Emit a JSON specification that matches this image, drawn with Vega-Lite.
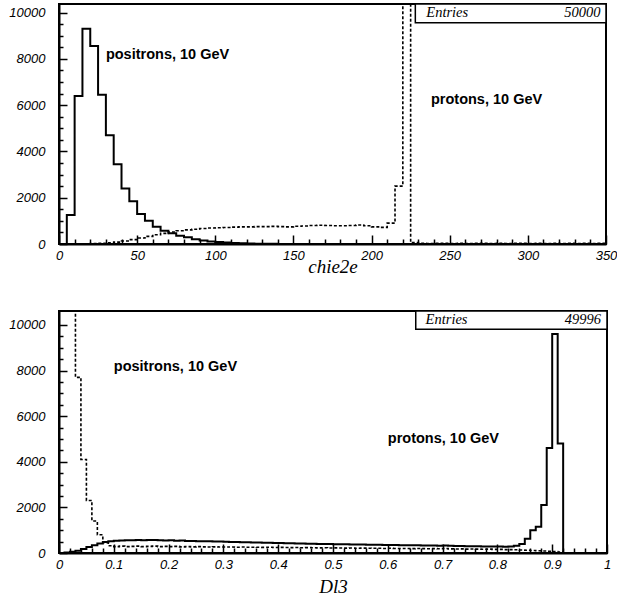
{
  "$schema": "https://vega.github.io/schema/vega-lite/v6.json",
  "background": "white",
  "padding": {"left": 7, "top": 2, "right": 8, "bottom": 5},
  "spacing": 32,
  "config": {
    "view": {"stroke": "black", "strokeWidth": 2},
    "axis": {
      "domainColor": "black", "domainWidth": 2, "tickColor": "black", "tickWidth": 1.5,
      "labelFont": "Liberation Sans", "labelFontStyle": "italic", "labelFontSize": 13, "labelColor": "black",
      "labelOverlap": false, "labelFlush": false, "grid": false,
      "titleFont": "Liberation Serif", "titleFontStyle": "italic", "titleFontWeight": "normal", "titleFontSize": 19, "titleColor": "black"
    }
  },
  "datasets": {
    "h": [
      {"p":"chie2e","s":"positrons","lo":0,"n":0},{"p":"chie2e","s":"positrons","lo":5,"n":1250},{"p":"chie2e","s":"positrons","lo":10,"n":6400},{"p":"chie2e","s":"positrons","lo":15,"n":9300},{"p":"chie2e","s":"positrons","lo":20,"n":8550},{"p":"chie2e","s":"positrons","lo":25,"n":6450},{"p":"chie2e","s":"positrons","lo":30,"n":4700},{"p":"chie2e","s":"positrons","lo":35,"n":3450},{"p":"chie2e","s":"positrons","lo":40,"n":2400},{"p":"chie2e","s":"positrons","lo":45,"n":1850},{"p":"chie2e","s":"positrons","lo":50,"n":1300},{"p":"chie2e","s":"positrons","lo":55,"n":1000},{"p":"chie2e","s":"positrons","lo":60,"n":750},{"p":"chie2e","s":"positrons","lo":65,"n":570},{"p":"chie2e","s":"positrons","lo":70,"n":460},{"p":"chie2e","s":"positrons","lo":75,"n":360},{"p":"chie2e","s":"positrons","lo":80,"n":290},{"p":"chie2e","s":"positrons","lo":85,"n":210},{"p":"chie2e","s":"positrons","lo":90,"n":150},{"p":"chie2e","s":"positrons","lo":95,"n":110},{"p":"chie2e","s":"positrons","lo":100,"n":85},{"p":"chie2e","s":"positrons","lo":105,"n":60},{"p":"chie2e","s":"positrons","lo":110,"n":45},{"p":"chie2e","s":"positrons","lo":115,"n":30},{"p":"chie2e","s":"positrons","lo":120,"n":22},{"p":"chie2e","s":"positrons","lo":125,"n":15},{"p":"chie2e","s":"positrons","lo":130,"n":10},{"p":"chie2e","s":"positrons","lo":135,"n":8},{"p":"chie2e","s":"positrons","lo":140,"n":5},{"p":"chie2e","s":"positrons","lo":145,"n":3},{"p":"chie2e","s":"positrons","lo":150,"n":2},{"p":"chie2e","s":"positrons","lo":155,"n":0},{"p":"chie2e","s":"positrons","lo":200,"n":0},{"p":"chie2e","s":"positrons","lo":250,"n":0},{"p":"chie2e","s":"positrons","lo":300,"n":0},{"p":"chie2e","s":"positrons","lo":350,"n":0},
      {"p":"chie2e","s":"protons","lo":0,"n":0},{"p":"chie2e","s":"protons","lo":5,"n":0},{"p":"chie2e","s":"protons","lo":10,"n":0},{"p":"chie2e","s":"protons","lo":15,"n":5},{"p":"chie2e","s":"protons","lo":20,"n":15},{"p":"chie2e","s":"protons","lo":25,"n":30},{"p":"chie2e","s":"protons","lo":30,"n":50},{"p":"chie2e","s":"protons","lo":35,"n":80},{"p":"chie2e","s":"protons","lo":40,"n":130},{"p":"chie2e","s":"protons","lo":45,"n":190},{"p":"chie2e","s":"protons","lo":50,"n":260},{"p":"chie2e","s":"protons","lo":55,"n":330},{"p":"chie2e","s":"protons","lo":60,"n":400},{"p":"chie2e","s":"protons","lo":65,"n":460},{"p":"chie2e","s":"protons","lo":70,"n":520},{"p":"chie2e","s":"protons","lo":75,"n":570},{"p":"chie2e","s":"protons","lo":80,"n":610},{"p":"chie2e","s":"protons","lo":85,"n":640},{"p":"chie2e","s":"protons","lo":90,"n":670},{"p":"chie2e","s":"protons","lo":95,"n":690},{"p":"chie2e","s":"protons","lo":100,"n":700},{"p":"chie2e","s":"protons","lo":105,"n":710},{"p":"chie2e","s":"protons","lo":110,"n":730},{"p":"chie2e","s":"protons","lo":115,"n":740},{"p":"chie2e","s":"protons","lo":120,"n":740},{"p":"chie2e","s":"protons","lo":125,"n":750},{"p":"chie2e","s":"protons","lo":130,"n":750},{"p":"chie2e","s":"protons","lo":135,"n":760},{"p":"chie2e","s":"protons","lo":140,"n":750},{"p":"chie2e","s":"protons","lo":145,"n":740},{"p":"chie2e","s":"protons","lo":150,"n":770},{"p":"chie2e","s":"protons","lo":155,"n":780},{"p":"chie2e","s":"protons","lo":160,"n":800},{"p":"chie2e","s":"protons","lo":165,"n":810},{"p":"chie2e","s":"protons","lo":170,"n":800},{"p":"chie2e","s":"protons","lo":175,"n":790},{"p":"chie2e","s":"protons","lo":180,"n":790},{"p":"chie2e","s":"protons","lo":185,"n":800},{"p":"chie2e","s":"protons","lo":190,"n":820},{"p":"chie2e","s":"protons","lo":195,"n":790},{"p":"chie2e","s":"protons","lo":200,"n":740},{"p":"chie2e","s":"protons","lo":205,"n":720},{"p":"chie2e","s":"protons","lo":210,"n":900},{"p":"chie2e","s":"protons","lo":215,"n":2500},{"p":"chie2e","s":"protons","lo":220,"n":25000},{"p":"chie2e","s":"protons","lo":225,"n":60},{"p":"chie2e","s":"protons","lo":230,"n":35},{"p":"chie2e","s":"protons","lo":235,"n":20},{"p":"chie2e","s":"protons","lo":240,"n":30},{"p":"chie2e","s":"protons","lo":245,"n":25},{"p":"chie2e","s":"protons","lo":250,"n":20},{"p":"chie2e","s":"protons","lo":255,"n":30},{"p":"chie2e","s":"protons","lo":260,"n":20},{"p":"chie2e","s":"protons","lo":265,"n":25},{"p":"chie2e","s":"protons","lo":270,"n":30},{"p":"chie2e","s":"protons","lo":275,"n":20},{"p":"chie2e","s":"protons","lo":280,"n":25},{"p":"chie2e","s":"protons","lo":285,"n":20},{"p":"chie2e","s":"protons","lo":290,"n":30},{"p":"chie2e","s":"protons","lo":295,"n":25},{"p":"chie2e","s":"protons","lo":300,"n":20},{"p":"chie2e","s":"protons","lo":305,"n":25},{"p":"chie2e","s":"protons","lo":310,"n":20},{"p":"chie2e","s":"protons","lo":315,"n":30},{"p":"chie2e","s":"protons","lo":320,"n":20},{"p":"chie2e","s":"protons","lo":325,"n":25},{"p":"chie2e","s":"protons","lo":330,"n":20},{"p":"chie2e","s":"protons","lo":335,"n":25},{"p":"chie2e","s":"protons","lo":340,"n":20},{"p":"chie2e","s":"protons","lo":345,"n":25},{"p":"chie2e","s":"protons","lo":350,"n":0},
      {"p":"Dl3","s":"protons","lo":0.00,"n":0},{"p":"Dl3","s":"protons","lo":0.01,"n":20},{"p":"Dl3","s":"protons","lo":0.02,"n":50},{"p":"Dl3","s":"protons","lo":0.03,"n":100},{"p":"Dl3","s":"protons","lo":0.04,"n":180},{"p":"Dl3","s":"protons","lo":0.05,"n":260},{"p":"Dl3","s":"protons","lo":0.06,"n":340},{"p":"Dl3","s":"protons","lo":0.07,"n":420},{"p":"Dl3","s":"protons","lo":0.08,"n":480},{"p":"Dl3","s":"protons","lo":0.09,"n":520},
      {"p":"Dl3","s":"protons","lo":0.10,"n":540},{"p":"Dl3","s":"protons","lo":0.11,"n":550},{"p":"Dl3","s":"protons","lo":0.12,"n":560},{"p":"Dl3","s":"protons","lo":0.13,"n":555},{"p":"Dl3","s":"protons","lo":0.14,"n":570},{"p":"Dl3","s":"protons","lo":0.15,"n":560},{"p":"Dl3","s":"protons","lo":0.16,"n":565},{"p":"Dl3","s":"protons","lo":0.17,"n":570},{"p":"Dl3","s":"protons","lo":0.18,"n":560},{"p":"Dl3","s":"protons","lo":0.19,"n":550},
      {"p":"Dl3","s":"protons","lo":0.20,"n":555},{"p":"Dl3","s":"protons","lo":0.21,"n":540},{"p":"Dl3","s":"protons","lo":0.22,"n":545},{"p":"Dl3","s":"protons","lo":0.23,"n":530},{"p":"Dl3","s":"protons","lo":0.24,"n":530},{"p":"Dl3","s":"protons","lo":0.25,"n":520},{"p":"Dl3","s":"protons","lo":0.26,"n":515},{"p":"Dl3","s":"protons","lo":0.27,"n":510},{"p":"Dl3","s":"protons","lo":0.28,"n":500},{"p":"Dl3","s":"protons","lo":0.29,"n":505},
      {"p":"Dl3","s":"protons","lo":0.30,"n":490},{"p":"Dl3","s":"protons","lo":0.31,"n":485},{"p":"Dl3","s":"protons","lo":0.32,"n":480},{"p":"Dl3","s":"protons","lo":0.33,"n":470},{"p":"Dl3","s":"protons","lo":0.34,"n":470},{"p":"Dl3","s":"protons","lo":0.35,"n":460},{"p":"Dl3","s":"protons","lo":0.36,"n":455},{"p":"Dl3","s":"protons","lo":0.37,"n":450},{"p":"Dl3","s":"protons","lo":0.38,"n":450},{"p":"Dl3","s":"protons","lo":0.39,"n":440},
      {"p":"Dl3","s":"protons","lo":0.40,"n":435},{"p":"Dl3","s":"protons","lo":0.41,"n":430},{"p":"Dl3","s":"protons","lo":0.42,"n":425},{"p":"Dl3","s":"protons","lo":0.43,"n":420},{"p":"Dl3","s":"protons","lo":0.44,"n":415},{"p":"Dl3","s":"protons","lo":0.45,"n":410},{"p":"Dl3","s":"protons","lo":0.46,"n":405},{"p":"Dl3","s":"protons","lo":0.47,"n":400},{"p":"Dl3","s":"protons","lo":0.48,"n":395},{"p":"Dl3","s":"protons","lo":0.49,"n":390},
      {"p":"Dl3","s":"protons","lo":0.50,"n":385},{"p":"Dl3","s":"protons","lo":0.51,"n":380},{"p":"Dl3","s":"protons","lo":0.52,"n":380},{"p":"Dl3","s":"protons","lo":0.53,"n":375},{"p":"Dl3","s":"protons","lo":0.54,"n":370},{"p":"Dl3","s":"protons","lo":0.55,"n":370},{"p":"Dl3","s":"protons","lo":0.56,"n":365},{"p":"Dl3","s":"protons","lo":0.57,"n":360},{"p":"Dl3","s":"protons","lo":0.58,"n":360},{"p":"Dl3","s":"protons","lo":0.59,"n":355},
      {"p":"Dl3","s":"protons","lo":0.60,"n":350},{"p":"Dl3","s":"protons","lo":0.61,"n":350},{"p":"Dl3","s":"protons","lo":0.62,"n":345},{"p":"Dl3","s":"protons","lo":0.63,"n":340},{"p":"Dl3","s":"protons","lo":0.64,"n":340},{"p":"Dl3","s":"protons","lo":0.65,"n":335},{"p":"Dl3","s":"protons","lo":0.66,"n":330},{"p":"Dl3","s":"protons","lo":0.67,"n":330},{"p":"Dl3","s":"protons","lo":0.68,"n":325},{"p":"Dl3","s":"protons","lo":0.69,"n":320},
      {"p":"Dl3","s":"protons","lo":0.70,"n":330},{"p":"Dl3","s":"protons","lo":0.71,"n":315},{"p":"Dl3","s":"protons","lo":0.72,"n":310},{"p":"Dl3","s":"protons","lo":0.73,"n":305},{"p":"Dl3","s":"protons","lo":0.74,"n":300},{"p":"Dl3","s":"protons","lo":0.75,"n":300},{"p":"Dl3","s":"protons","lo":0.76,"n":295},{"p":"Dl3","s":"protons","lo":0.77,"n":290},{"p":"Dl3","s":"protons","lo":0.78,"n":285},{"p":"Dl3","s":"protons","lo":0.79,"n":280},
      {"p":"Dl3","s":"protons","lo":0.80,"n":280},{"p":"Dl3","s":"protons","lo":0.81,"n":275},{"p":"Dl3","s":"protons","lo":0.82,"n":290},{"p":"Dl3","s":"protons","lo":0.83,"n":320},{"p":"Dl3","s":"protons","lo":0.84,"n":400},{"p":"Dl3","s":"protons","lo":0.85,"n":630},{"p":"Dl3","s":"protons","lo":0.86,"n":1000},{"p":"Dl3","s":"protons","lo":0.87,"n":1150},{"p":"Dl3","s":"protons","lo":0.88,"n":2100},{"p":"Dl3","s":"protons","lo":0.89,"n":4600},
      {"p":"Dl3","s":"protons","lo":0.90,"n":9600},{"p":"Dl3","s":"protons","lo":0.91,"n":4800},{"p":"Dl3","s":"protons","lo":0.92,"n":0},{"p":"Dl3","s":"protons","lo":0.95,"n":0},{"p":"Dl3","s":"protons","lo":1.00,"n":0},
      {"p":"Dl3","s":"positrons","lo":0.00,"n":13000},{"p":"Dl3","s":"positrons","lo":0.01,"n":15000},{"p":"Dl3","s":"positrons","lo":0.02,"n":12000},{"p":"Dl3","s":"positrons","lo":0.03,"n":7700},{"p":"Dl3","s":"positrons","lo":0.04,"n":4100},{"p":"Dl3","s":"positrons","lo":0.05,"n":2300},{"p":"Dl3","s":"positrons","lo":0.06,"n":1400},{"p":"Dl3","s":"positrons","lo":0.07,"n":800},{"p":"Dl3","s":"positrons","lo":0.08,"n":450},{"p":"Dl3","s":"positrons","lo":0.09,"n":320},
      {"p":"Dl3","s":"positrons","lo":0.10,"n":280},{"p":"Dl3","s":"positrons","lo":0.11,"n":300},{"p":"Dl3","s":"positrons","lo":0.12,"n":280},{"p":"Dl3","s":"positrons","lo":0.13,"n":290},{"p":"Dl3","s":"positrons","lo":0.14,"n":300},{"p":"Dl3","s":"positrons","lo":0.15,"n":280},{"p":"Dl3","s":"positrons","lo":0.16,"n":290},{"p":"Dl3","s":"positrons","lo":0.17,"n":300},{"p":"Dl3","s":"positrons","lo":0.18,"n":280},{"p":"Dl3","s":"positrons","lo":0.19,"n":290},
      {"p":"Dl3","s":"positrons","lo":0.20,"n":280},{"p":"Dl3","s":"positrons","lo":0.21,"n":290},{"p":"Dl3","s":"positrons","lo":0.22,"n":270},{"p":"Dl3","s":"positrons","lo":0.23,"n":280},{"p":"Dl3","s":"positrons","lo":0.24,"n":270},{"p":"Dl3","s":"positrons","lo":0.25,"n":280},{"p":"Dl3","s":"positrons","lo":0.26,"n":270},{"p":"Dl3","s":"positrons","lo":0.27,"n":260},{"p":"Dl3","s":"positrons","lo":0.28,"n":270},{"p":"Dl3","s":"positrons","lo":0.29,"n":260},
      {"p":"Dl3","s":"positrons","lo":0.30,"n":260},{"p":"Dl3","s":"positrons","lo":0.31,"n":265},{"p":"Dl3","s":"positrons","lo":0.32,"n":255},{"p":"Dl3","s":"positrons","lo":0.33,"n":260},{"p":"Dl3","s":"positrons","lo":0.34,"n":250},{"p":"Dl3","s":"positrons","lo":0.35,"n":255},{"p":"Dl3","s":"positrons","lo":0.36,"n":250},{"p":"Dl3","s":"positrons","lo":0.37,"n":245},{"p":"Dl3","s":"positrons","lo":0.38,"n":250},{"p":"Dl3","s":"positrons","lo":0.39,"n":240},
      {"p":"Dl3","s":"positrons","lo":0.40,"n":245},{"p":"Dl3","s":"positrons","lo":0.41,"n":240},{"p":"Dl3","s":"positrons","lo":0.42,"n":235},{"p":"Dl3","s":"positrons","lo":0.43,"n":240},{"p":"Dl3","s":"positrons","lo":0.44,"n":230},{"p":"Dl3","s":"positrons","lo":0.45,"n":235},{"p":"Dl3","s":"positrons","lo":0.46,"n":230},{"p":"Dl3","s":"positrons","lo":0.47,"n":225},{"p":"Dl3","s":"positrons","lo":0.48,"n":230},{"p":"Dl3","s":"positrons","lo":0.49,"n":220},
      {"p":"Dl3","s":"positrons","lo":0.50,"n":225},{"p":"Dl3","s":"positrons","lo":0.51,"n":220},{"p":"Dl3","s":"positrons","lo":0.52,"n":215},{"p":"Dl3","s":"positrons","lo":0.53,"n":220},{"p":"Dl3","s":"positrons","lo":0.54,"n":210},{"p":"Dl3","s":"positrons","lo":0.55,"n":215},{"p":"Dl3","s":"positrons","lo":0.56,"n":210},{"p":"Dl3","s":"positrons","lo":0.57,"n":205},{"p":"Dl3","s":"positrons","lo":0.58,"n":210},{"p":"Dl3","s":"positrons","lo":0.59,"n":200},
      {"p":"Dl3","s":"positrons","lo":0.60,"n":205},{"p":"Dl3","s":"positrons","lo":0.61,"n":200},{"p":"Dl3","s":"positrons","lo":0.62,"n":195},{"p":"Dl3","s":"positrons","lo":0.63,"n":200},{"p":"Dl3","s":"positrons","lo":0.64,"n":190},{"p":"Dl3","s":"positrons","lo":0.65,"n":195},{"p":"Dl3","s":"positrons","lo":0.66,"n":190},{"p":"Dl3","s":"positrons","lo":0.67,"n":185},{"p":"Dl3","s":"positrons","lo":0.68,"n":190},{"p":"Dl3","s":"positrons","lo":0.69,"n":185},
      {"p":"Dl3","s":"positrons","lo":0.70,"n":200},{"p":"Dl3","s":"positrons","lo":0.71,"n":180},{"p":"Dl3","s":"positrons","lo":0.72,"n":175},{"p":"Dl3","s":"positrons","lo":0.73,"n":180},{"p":"Dl3","s":"positrons","lo":0.74,"n":170},{"p":"Dl3","s":"positrons","lo":0.75,"n":175},{"p":"Dl3","s":"positrons","lo":0.76,"n":170},{"p":"Dl3","s":"positrons","lo":0.77,"n":165},{"p":"Dl3","s":"positrons","lo":0.78,"n":170},{"p":"Dl3","s":"positrons","lo":0.79,"n":160},
      {"p":"Dl3","s":"positrons","lo":0.80,"n":160},{"p":"Dl3","s":"positrons","lo":0.81,"n":150},{"p":"Dl3","s":"positrons","lo":0.82,"n":150},{"p":"Dl3","s":"positrons","lo":0.83,"n":140},{"p":"Dl3","s":"positrons","lo":0.84,"n":130},{"p":"Dl3","s":"positrons","lo":0.85,"n":120},{"p":"Dl3","s":"positrons","lo":0.86,"n":110},{"p":"Dl3","s":"positrons","lo":0.87,"n":100},{"p":"Dl3","s":"positrons","lo":0.88,"n":90},{"p":"Dl3","s":"positrons","lo":0.89,"n":80},
      {"p":"Dl3","s":"positrons","lo":0.90,"n":60},{"p":"Dl3","s":"positrons","lo":0.91,"n":40},{"p":"Dl3","s":"positrons","lo":0.92,"n":0},{"p":"Dl3","s":"positrons","lo":0.95,"n":0},{"p":"Dl3","s":"positrons","lo":1.00,"n":0}
    ]
  },
  "vconcat": [
    {
      "width": 547,
      "height": 240,
      "resolve": {"axis": {"x": "independent", "y": "independent"}},
      "layer": [
        {
          "data": {"name": "h"},
          "transform": [{"filter": "datum.p === 'chie2e' && datum.s === 'positrons'"}],
          "mark": {"type": "line", "interpolate": "step-after", "color": "black", "strokeWidth": 2, "clip": true},
          "encoding": {
            "x": {"field": "lo", "type": "quantitative", "title": "chie2e",
              "scale": {"domain": [0, 350], "nice": false, "zero": false},
              "axis": {"orient": "bottom", "values": [0,50,100,150,200,250,300,350], "format": "d", "ticks": false,
                "labelOverlap": false, "labelFlush": false, "labelPadding": 5, "titlePadding": -5}},
            "y": {"field": "n", "type": "quantitative", "title": null,
              "scale": {"domain": [0, 10370], "nice": false},
              "axis": {"orient": "left", "values": [0,2000,4000,6000,8000,10000], "format": "d", "ticks": false,
                "labelOverlap": false, "labelFlush": false, "labelPadding": 14}}
          }
        },
        {
          "data": {"name": "h"},
          "transform": [{"filter": "datum.p === 'chie2e' && datum.s === 'protons'"}],
          "mark": {"type": "line", "interpolate": "step-after", "color": "black", "strokeWidth": 1.6, "strokeDash": [3, 2], "clip": true},
          "encoding": {
            "x": {"field": "lo", "type": "quantitative",
              "axis": {"orient": "bottom", "values": [0,50,100,150,200,250,300,350], "labels": false, "domain": false, "title": null, "ticks": true, "tickSize": 9, "offset": -9}},
            "y": {"field": "n", "type": "quantitative",
              "axis": {"orient": "left", "values": [0,2000,4000,6000,8000,10000], "labels": false, "domain": false, "title": null, "ticks": true, "tickSize": 8, "offset": -8}}
          }
        },
        {
          "data": {"values": [{}]},
          "mark": {"type": "rect", "fill": "white", "stroke": "black", "strokeWidth": 1.5},
          "encoding": {
            "x": {"datum": 228, "type": "quantitative",
              "axis": {"orient": "bottom", "values": [10,20,30,40,60,70,80,90,110,120,130,140,160,170,180,190,210,220,230,240,260,270,280,290,310,320,330,340], "labels": false, "domain": false, "title": null, "ticks": true, "tickSize": 5, "offset": -5}},
            "x2": {"datum": 350},
            "y": {"datum": 9560, "type": "quantitative",
              "axis": {"orient": "left", "values": [500,1000,1500,2500,3000,3500,4500,5000,5500,6500,7000,7500,8500,9000,9500], "labels": false, "domain": false, "title": null, "ticks": true, "tickSize": 4, "offset": -4}},
            "y2": {"datum": 10370}
          }
        },
        {
          "data": {"values": [{}]},
          "mark": {"type": "text", "font": "Liberation Serif", "fontStyle": "italic", "fontSize": 14.5, "align": "left", "baseline": "middle", "color": "black"},
          "encoding": {"x": {"datum": 235, "type": "quantitative", "axis": null}, "y": {"datum": 9980, "type": "quantitative", "axis": null}, "text": {"value": "Entries"}}
        },
        {
          "data": {"values": [{}]},
          "mark": {"type": "text", "font": "Liberation Serif", "fontStyle": "italic", "fontSize": 14.5, "align": "right", "baseline": "middle", "color": "black"},
          "encoding": {"x": {"datum": 346.5, "type": "quantitative", "axis": null}, "y": {"datum": 9980, "type": "quantitative", "axis": null}, "text": {"value": "50000"}}
        },
        {
          "data": {"values": [{}]},
          "mark": {"type": "text", "font": "Liberation Sans", "fontWeight": "bold", "fontSize": 14.5, "align": "left", "baseline": "middle", "color": "black"},
          "encoding": {"x": {"datum": 30, "type": "quantitative", "axis": null}, "y": {"datum": 8150, "type": "quantitative", "axis": null}, "text": {"value": "positrons, 10 GeV"}}
        },
        {
          "data": {"values": [{}]},
          "mark": {"type": "text", "font": "Liberation Sans", "fontWeight": "bold", "fontSize": 14.5, "align": "left", "baseline": "middle", "color": "black"},
          "encoding": {"x": {"datum": 238, "type": "quantitative", "axis": null}, "y": {"datum": 6220, "type": "quantitative", "axis": null}, "text": {"value": "protons, 10 GeV"}}
        }
      ]
    },
    {
      "width": 548,
      "height": 242,
      "resolve": {"axis": {"x": "independent", "y": "independent"}},
      "layer": [
        {
          "data": {"name": "h"},
          "transform": [{"filter": "datum.p === 'Dl3' && datum.s === 'protons'"}],
          "mark": {"type": "line", "interpolate": "step-after", "color": "black", "strokeWidth": 2, "clip": true},
          "encoding": {
            "x": {"field": "lo", "type": "quantitative", "title": "Dl3",
              "scale": {"domain": [0, 1], "nice": false, "zero": false},
              "axis": {"orient": "bottom", "values": [0,0.1,0.2,0.3,0.4,0.5,0.6,0.7,0.8,0.9,1], "ticks": false,
                "labelExpr": "format(datum.value, '~g')",
                "labelOverlap": false, "labelFlush": false, "labelPadding": 5, "titlePadding": 6}},
            "y": {"field": "n", "type": "quantitative", "title": null,
              "scale": {"domain": [0, 10610], "nice": false},
              "axis": {"orient": "left", "values": [0,2000,4000,6000,8000,10000], "format": "d", "ticks": false,
                "labelOverlap": false, "labelFlush": false, "labelPadding": 14}}
          }
        },
        {
          "data": {"name": "h"},
          "transform": [{"filter": "datum.p === 'Dl3' && datum.s === 'positrons'"}],
          "mark": {"type": "line", "interpolate": "step-after", "color": "black", "strokeWidth": 1.6, "strokeDash": [3, 2], "clip": true},
          "encoding": {
            "x": {"field": "lo", "type": "quantitative",
              "axis": {"orient": "bottom", "values": [0,0.1,0.2,0.3,0.4,0.5,0.6,0.7,0.8,0.9,1], "labels": false, "domain": false, "title": null, "ticks": true, "tickSize": 9, "offset": -9}},
            "y": {"field": "n", "type": "quantitative",
              "axis": {"orient": "left", "values": [0,2000,4000,6000,8000,10000], "labels": false, "domain": false, "title": null, "ticks": true, "tickSize": 8, "offset": -8}}
          }
        },
        {
          "data": {"values": [{}]},
          "mark": {"type": "rect", "fill": "white", "stroke": "black", "strokeWidth": 1.5},
          "encoding": {
            "x": {"datum": 0.651, "type": "quantitative",
              "axis": {"orient": "bottom", "values": [0.02,0.04,0.06,0.08,0.12,0.14,0.16,0.18,0.22,0.24,0.26,0.28,0.32,0.34,0.36,0.38,0.42,0.44,0.46,0.48,0.52,0.54,0.56,0.58,0.62,0.64,0.66,0.68,0.72,0.74,0.76,0.78,0.82,0.84,0.86,0.88,0.92,0.94,0.96,0.98], "labels": false, "domain": false, "title": null, "ticks": true, "tickSize": 5, "offset": -5}},
            "x2": {"datum": 1},
            "y": {"datum": 9815, "type": "quantitative",
              "axis": {"orient": "left", "values": [500,1000,1500,2500,3000,3500,4500,5000,5500,6500,7000,7500,8500,9000,9500], "labels": false, "domain": false, "title": null, "ticks": true, "tickSize": 4, "offset": -4}},
            "y2": {"datum": 10610}
          }
        },
        {
          "data": {"values": [{}]},
          "mark": {"type": "text", "font": "Liberation Serif", "fontStyle": "italic", "fontSize": 14.5, "align": "left", "baseline": "middle", "color": "black"},
          "encoding": {"x": {"datum": 0.669, "type": "quantitative", "axis": null}, "y": {"datum": 10230, "type": "quantitative", "axis": null}, "text": {"value": "Entries"}}
        },
        {
          "data": {"values": [{}]},
          "mark": {"type": "text", "font": "Liberation Serif", "fontStyle": "italic", "fontSize": 14.5, "align": "right", "baseline": "middle", "color": "black"},
          "encoding": {"x": {"datum": 0.989, "type": "quantitative", "axis": null}, "y": {"datum": 10230, "type": "quantitative", "axis": null}, "text": {"value": "49996"}}
        },
        {
          "data": {"values": [{}]},
          "mark": {"type": "text", "font": "Liberation Sans", "fontWeight": "bold", "fontSize": 14.5, "align": "left", "baseline": "middle", "color": "black"},
          "encoding": {"x": {"datum": 0.1, "type": "quantitative", "axis": null}, "y": {"datum": 8150, "type": "quantitative", "axis": null}, "text": {"value": "positrons, 10 GeV"}}
        },
        {
          "data": {"values": [{}]},
          "mark": {"type": "text", "font": "Liberation Sans", "fontWeight": "bold", "fontSize": 14.5, "align": "left", "baseline": "middle", "color": "black"},
          "encoding": {"x": {"datum": 0.6, "type": "quantitative", "axis": null}, "y": {"datum": 5010, "type": "quantitative", "axis": null}, "text": {"value": "protons, 10 GeV"}}
        }
      ]
    }
  ]
}
